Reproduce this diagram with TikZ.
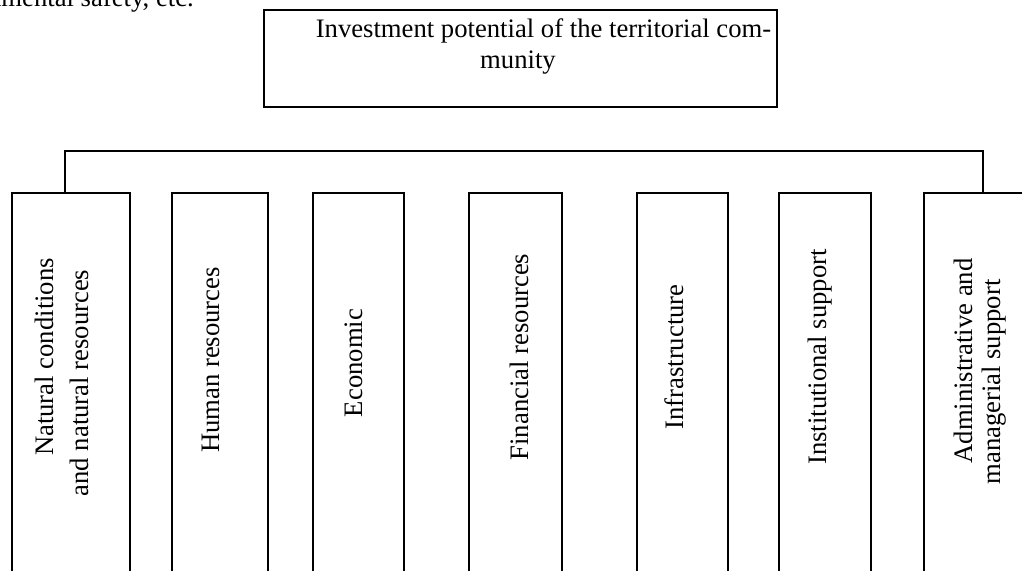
\documentclass[tikz,border=0pt]{standalone}
\usepackage{fontspec}
\setmainfont{Liberation Serif}
\usetikzlibrary{fit}
\begin{document}
\begin{tikzpicture}[x=0.75pt,y=-0.75pt,
  boxline/.style={draw, line width=0.9pt, inner sep=0pt},
  topline/.style={draw, line width=1.4pt, inner sep=0pt},
  bus/.style={line width=0.9pt},
  lbl/.style={font=\fontsize{20}{24}\selectfont, inner sep=0pt, anchor=base},
  vlbl/.style={lbl, rotate=90}]
\clip (0,0) rectangle (1022,571);
\useasboundingbox (0,0) rectangle (1022,571);
% cut-off text of the surrounding page
\node[lbl, anchor=base east] (prev) at (194,7) {environmental safety, etc.};
% top box
\node[topline, fit={(264,10)(777,107)}] (top) {};
\node[lbl] (t1) at (543.5,37) {Investment potential of the territorial com-};
\node[lbl] (t2) at (518,68) {munity};
% lower boxes
\node[boxline, fit={(12,193)(130,590)}] (b1) {};
\node[boxline, fit={(172,193)(268,590)}] (b2) {};
\node[boxline, fit={(313,193)(404,590)}] (b3) {};
\node[boxline, fit={(469,193)(562,590)}] (b4) {};
\node[boxline, fit={(637,193)(728,590)}] (b5) {};
\node[boxline, fit={(779,193)(871,590)}] (b6) {};
\node[boxline, fit={(924,193)(1042,590)}] (b7) {};
% labels
\node[vlbl] (l1a) at (53,357) {Natural conditions};
\node[vlbl] (l1b) at (88,383) {and natural resources};
\node[vlbl] (l2) at (219,360) {Human resources};
\node[vlbl] (l3) at (362,363) {Economic};
\node[vlbl] (l4) at (528,357) {Financial resources};
\node[vlbl] (l5) at (683,357) {Infrastructure};
\node[vlbl] (l6) at (826,357) {Institutional support};
\node[vlbl] (l7a) at (972,361) {Administrative and};
\node[vlbl] (l7b) at (1000,382) {managerial support};
% bus
\coordinate (busL) at (65,151);
\coordinate (busR) at (983,151);
\draw[bus] (b1.north -| busL) -- (busL) -- (busR) -- (b7.north -| busR);
\end{tikzpicture}
\end{document}
